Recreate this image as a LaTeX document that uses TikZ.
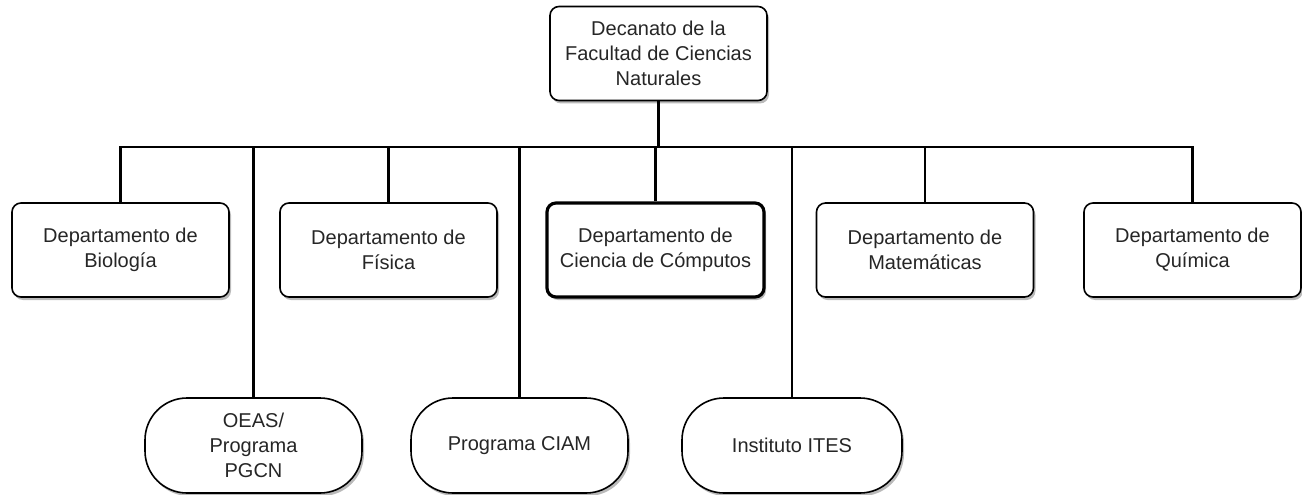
\documentclass[tikz,border=0pt]{standalone}
\usepackage{fontspec}
\setmainfont{Liberation Sans}
\usetikzlibrary{shadows}
\begin{document}
\begin{tikzpicture}[x=1pt,y=-1pt,
  box/.style={draw=black, line width=1.6pt, fill=white, rounded corners=9pt,
    minimum width=217pt, minimum height=94pt, align=center, inner sep=2pt,
    font=\fontsize{20}{25}\selectfont, text=black!85,
    drop shadow={shadow xshift=2pt, shadow yshift=-3pt, fill=black!60, opacity=0.45}},
  boldbox/.style={box, line width=3.2pt},
  pill/.style={box, rounded corners=42pt, minimum height=95pt},
  conn/.style={line width=2.6pt, black}]
\useasboundingbox (0,0) rectangle (1302,495);
\coordinate (bus) at (0,147);
\node[box] (top) at (658.5,53.5) {Decanato de la\\Facultad de Ciencias\\Naturales};
\node[box] (bio) at (120.5,250) {Departamento de\\Biología};
\node[box] (fis) at (388.5,250) {Departamento de\\Física};
\node[boldbox] (comp) at (655.5,250) {Departamento de\\Ciencia de Cómputos};
\node[box] (mat) at (925,250) {Departamento de\\Matemáticas};
\node[box] (qui) at (1192.5,250) {Departamento de\\Química};
\node[pill] (oeas) at (253.5,445.5) {OEAS/\\Programa\\PGCN};
\node[pill] (ciam) at (519.5,445.5) {Programa CIAM};
\node[pill, minimum width=220pt] (ites) at (792,445.5) {Instituto ITES};
\draw[conn] (bio.north) -- (bio.north |- bus) -- (qui.north |- bus) -- (qui.north);
\draw[conn] (top.south) -- (top.south |- bus);
\draw[conn] (fis.north) -- (fis.north |- bus);
\draw[conn] (comp.north) -- (comp.north |- bus);
\draw[conn] (mat.north) -- (mat.north |- bus);
\draw[conn] (oeas.north) -- (oeas.north |- bus);
\draw[conn] (ciam.north) -- (ciam.north |- bus);
\draw[conn] (ites.north) -- (ites.north |- bus);
\end{tikzpicture}
\end{document}
